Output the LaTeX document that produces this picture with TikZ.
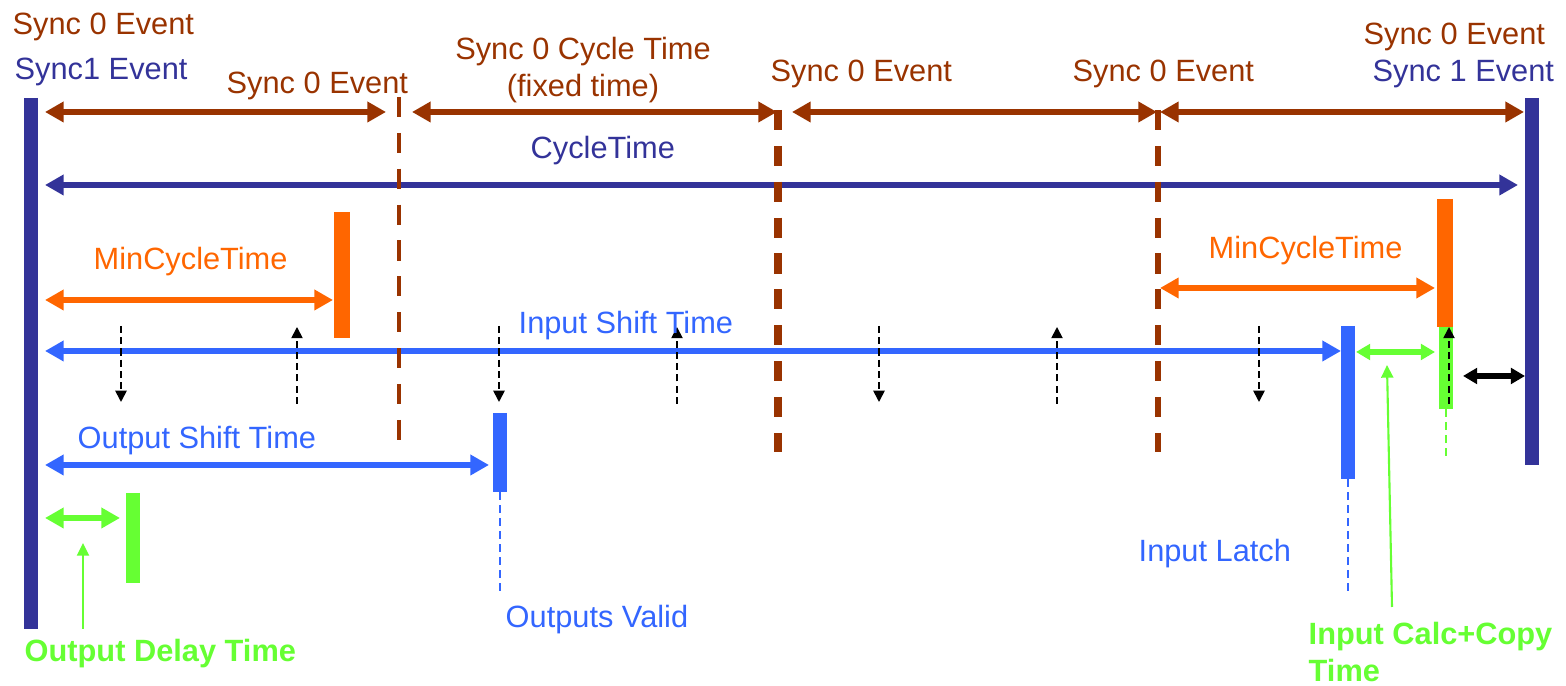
\documentclass[tikz,border=0pt]{standalone}
\usepackage{fontspec}
\setmainfont{Liberation Sans}
\usetikzlibrary{arrows.meta,positioning}
\definecolor{syncbrown}{HTML}{993300}
\definecolor{cycleblue}{HTML}{333399}
\definecolor{shiftblue}{HTML}{3366FF}
\definecolor{minorange}{HTML}{FF6600}
\definecolor{calcgreen}{HTML}{66FF33}
\tikzset{
 >={Triangle[length=5.3pt,width=5.6pt]},
 bar/.style={line width=3.8pt},
 syncline/.style={syncbrown,dash pattern=on 5.7pt off 4.5pt},
 span/.style={<->,line width=1.9pt},
 smallspan/.style={<->,line width=1.9pt,>={Triangle[length=4pt,width=4.4pt]}},
 tick/.style={->,dash pattern=on 2pt off 1.2pt,line width=0.5pt,>={Triangle[length=3.2pt,width=3.2pt]}},
 pointer/.style={->,line width=0.6pt,calcgreen,>={Triangle[length=3.6pt,width=3.4pt]}},
 guide/.style={line width=0.7pt,dash pattern=on 2.3pt off 1.4pt},
 lbl/.style={font=\fontsize{8.75}{10.5}\selectfont,inner sep=0pt,anchor=base west}
}

\begin{document}
\begin{tikzpicture}[x=0.01cm,y=-0.01cm]
\useasboundingbox (0,0) rectangle (1566,686);

% sync events
\path (31,98) coordinate[name=evA];
\path (31,629) coordinate[name=evAbot];
\path (399,97) coordinate[name=evB];
\path (399,440) coordinate[name=evBbot];
\path (778,110) coordinate[name=evC];
\path (778,452) coordinate[name=evCbot];
\path (1158,110) coordinate[name=evD];
\path (1158,452) coordinate[name=evDbot];
\path (1532,98) coordinate[name=evE];
\path (1532,465) coordinate[name=evEbot];

\draw[bar,cycleblue] (evA) -- (evAbot);
\draw[bar,cycleblue] (evE) -- (evEbot);

% sync 0 cycles
\path (45,112) coordinate[name=c1a];
\path (386,112) coordinate[name=c1b];
\path (412,112) coordinate[name=c2a];
\path (777,112) coordinate[name=c2b];
\path (792,112) coordinate[name=c3a];
\path (1157,112) coordinate[name=c3b];
\path (1160,112) coordinate[name=c4a];
\path (1524,112) coordinate[name=c4b];
\path[span,syncbrown] (c1a) edge (c1b);
\path[span,syncbrown] (c2a) edge (c2b);
\path[span,syncbrown] (c3a) edge (c3b);
\path[span,syncbrown] (c4a) edge (c4b);

% cycle time
\path (45,185) coordinate[name=cycA];
\path (1518,185) coordinate[name=cycB];
\path[span,cycleblue] (cycA) edge (cycB);

% min cycle time, left and right
\path (342,212) coordinate[name=minL];
\path (342,338) coordinate[name=minLbot];
\path (1445,199) coordinate[name=minR];
\path (1445,327) coordinate[name=minRbot];
\draw[bar,minorange,line width=4.5pt] (minL) -- (minLbot);
\draw[bar,minorange,line width=4.5pt] (minR) -- (minRbot);
\path (45,300) coordinate[name=minLa];
\path (333,300) coordinate[name=minLb];
\path (1160,288) coordinate[name=minRa];
\path (1435,288) coordinate[name=minRb];
\path[span,minorange] (minLa) edge (minLb);
\path[span,minorange] (minRa) edge (minRb);

% input shift and input latch
\path (1348,326) coordinate[name=latch];
\path (1348,479) coordinate[name=latchbot];
\path (1348,593) coordinate[name=latchend];
\draw[bar,shiftblue] (latch) -- (latchbot);
\draw[guide,shiftblue] (latchbot) -- (latchend);
\path (45,351) coordinate[name=inA];
\path (1341,351) coordinate[name=inB];
\path[span,shiftblue] (inA) edge (inB);

% input calc + copy
\path (1446,327) coordinate[name=copy];
\path (1446,409) coordinate[name=copybot];
\path (1446,460) coordinate[name=copyend];
\draw[bar,calcgreen] (copy) -- (copybot);
\draw[guide,calcgreen,line width=0.6pt] (copybot) -- (copyend);
\path (1356,352) coordinate[name=cpA];
\path (1435,352) coordinate[name=cpB];
\path[smallspan,calcgreen] (cpA) edge (cpB);
\path (1463,376) coordinate[name=gapA];
\path (1525,376) coordinate[name=gapB];
\path[smallspan,black,line width=1.6pt] (gapA) edge (gapB);

% output shift and outputs valid
\path (500,413) coordinate[name=valid];
\path (500,492) coordinate[name=validbot];
\path (500,592) coordinate[name=validend];
\draw[bar,shiftblue,line width=4.2pt] (valid) -- (validbot);
\draw[guide,shiftblue] (validbot) -- (validend);
\path (45,465) coordinate[name=outA];
\path (489,465) coordinate[name=outB];
\path[span,shiftblue] (outA) edge (outB);

% output delay
\path (133,493) coordinate[name=delay];
\path (133,583) coordinate[name=delaybot];
\draw[bar,calcgreen] (delay) -- (delaybot);
\path (45,518) coordinate[name=dlA];
\path (120,518) coordinate[name=dlB];
\path[span,calcgreen] (dlA) edge (dlB);

% sync 0 marks on top of the spans
\draw[syncline,line width=1.4pt] (evB) -- (evBbot);
\draw[syncline,line width=2pt] (evC) -- (evCbot);
\draw[syncline,line width=1.7pt] (evD) -- (evDbot);

% data exchange ticks
\foreach \x in {121,499,879,1259}
  \draw[tick] (\x,326) -- (\x,402);
\foreach \x in {297,677,1057,1449}
  \draw[tick] (\x,404) -- (\x,327);

% labels
\node[lbl,syncbrown] (s0top) at (12,35) {Sync 0 Event};
\node[lbl,cycleblue] (s1left) at (14,80) {Sync1 Event};
\node[lbl,syncbrown] (s0b) at (226,94) {Sync 0 Event};
\node[lbl,syncbrown,anchor=base] (s0cyc) at (583,60) {Sync 0 Cycle Time};
\node[lbl,syncbrown,anchor=base] (s0fix) at (583,97) {(fixed time)};
\node[lbl,syncbrown] (s0c) at (770,82) {Sync 0 Event};
\node[lbl,syncbrown] (s0d) at (1072,82) {Sync 0 Event};
\node[lbl,syncbrown] (s0e) at (1363,45) {Sync 0 Event};
\node[lbl,cycleblue] (s1right) at (1372,82) {Sync 1 Event};
\node[lbl,cycleblue] (cyc) at (530,159) {CycleTime};
\node[lbl,minorange] (minl) at (93,270) {MinCycleTime};
\node[lbl,minorange] (minr) at (1208,259) {MinCycleTime};
\node[lbl,shiftblue] (insh) at (518,334) {Input Shift Time};
\node[lbl,shiftblue] (outsh) at (77,449) {Output Shift Time};
\node[lbl,shiftblue] (outv) at (505,628) {Outputs Valid};
\node[lbl,shiftblue] (inl) at (1138,562) {Input Latch};
\node[lbl,calcgreen,font=\fontsize{8.75}{10.5}\selectfont\bfseries] (odt) at (24,662) {Output Delay Time};
\node[lbl,calcgreen,font=\fontsize{8.75}{10.5}\selectfont\bfseries] (icc) at (1308,645) {Input Calc+Copy};
\node[lbl,calcgreen,font=\fontsize{8.75}{10.5}\selectfont\bfseries] (icct) at (1308,682) {Time};

% pointers from the green labels
\path (83,629) coordinate[name=odtp];
\path (83,543) coordinate[name=odtq];
\path[pointer] (odtp) edge (odtq);
\path (1392,607) coordinate[name=iccp];
\path (1387,365) coordinate[name=iccq];
\path[pointer] (iccp) edge (iccq);
\end{tikzpicture}
\end{document}
